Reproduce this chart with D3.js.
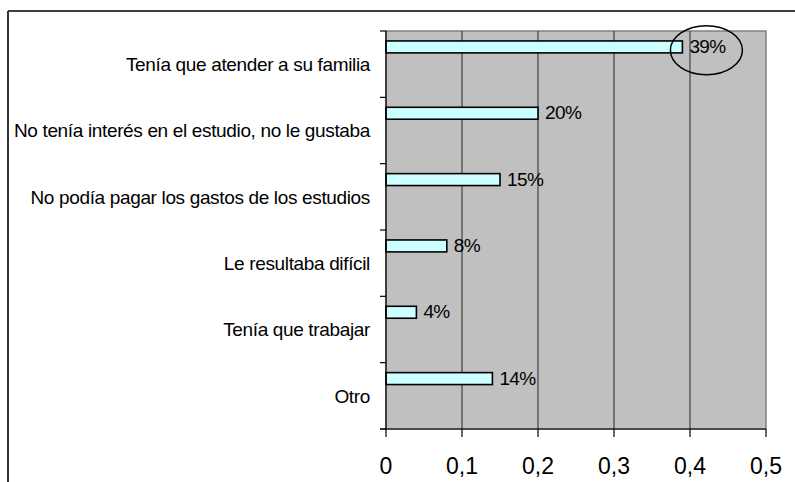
<!DOCTYPE html>
<html>
<head>
<meta charset="utf-8">
<script src="https://cdn.jsdelivr.net/npm/d3@7"></script>
<style>
  body { margin: 0; background: #fff; }
  text { font-family: "Liberation Sans", Arial, sans-serif; fill: #000; }
</style>
</head>
<body>
<script>
var width = 795;
var height = 482;

var categories = [
    "Tenía que atender a su familia",
    "No tenía interés en el estudio, no le gustaba",
    "No podía pagar los gastos de los estudios",
    "Le resultaba difícil",
    "Tenía que trabajar",
    "Otro"
];
var values = [0.39, 0.20, 0.15, 0.08, 0.04, 0.14];
var valueLabels = ["39%", "20%", "15%", "8%", "4%", "14%"];
var xTicks = [0, 0.1, 0.2, 0.3, 0.4, 0.5];
var xTickLabels = ["0", "0,1", "0,2", "0,3", "0,4", "0,5"];

var svg = d3.select("body").append("svg").attr("width", width).attr("height", height);

// outer chart frame (only top and left visible)
svg.append("line").attr("x1", 8).attr("y1", 11).attr("x2", width).attr("y2", 11)
    .attr("stroke", "#000").attr("stroke-width", 1.5);
svg.append("line").attr("x1", 8).attr("y1", 11).attr("x2", 8).attr("y2", height)
    .attr("stroke", "#333").attr("stroke-width", 2);

var plot = { left: 386, right: 766, top: 31, bottom: 429 };

var x = d3.scaleLinear().domain([0, 0.5]).range([plot.left, plot.right]);
var y = d3.scaleBand().domain(categories).range([plot.top, plot.bottom]);

// plot background
svg.append("rect")
    .attr("x", plot.left).attr("y", plot.top)
    .attr("width", plot.right - plot.left).attr("height", plot.bottom - plot.top)
    .attr("fill", "#c0c0c0").attr("stroke", "#808080").attr("stroke-width", 1.5);

// vertical gridlines
svg.append("g").selectAll("line")
    .data(xTicks.slice(1, -1))
    .enter().append("line")
    .attr("x1", function (d) { return x(d); })
    .attr("x2", function (d) { return x(d); })
    .attr("y1", plot.top).attr("y2", plot.bottom)
    .attr("stroke", "#404040").attr("stroke-width", 1.2);

// bars
var bw = y.bandwidth();
svg.append("g").selectAll("rect")
    .data(values)
    .enter().append("rect")
    .attr("x", x(0))
    .attr("y", function (d, i) { return y(categories[i]) + bw * 0.15; })
    .attr("width", function (d) { return x(d) - x(0); })
    .attr("height", bw * 0.18)
    .attr("fill", "#ccffff").attr("stroke", "#000").attr("stroke-width", 1.6);

// value labels
svg.append("g").selectAll("text")
    .data(values)
    .enter().append("text")
    .attr("x", function (d) { return x(d) + 7; })
    .attr("y", function (d, i) { return y(categories[i]) + bw * 0.15 + bw * 0.18; })
    .attr("font-size", "19px")
    .attr("letter-spacing", "-0.6px")
    .text(function (d, i) { return valueLabels[i]; });

// y axis
svg.append("line").attr("x1", plot.left).attr("x2", plot.left)
    .attr("y1", plot.top).attr("y2", plot.bottom).attr("stroke", "#000").attr("stroke-width", 1.2);
var yTickPos = categories.map(function (c) { return y(c); }).concat([plot.bottom]);
svg.append("g").selectAll("line")
    .data(yTickPos)
    .enter().append("line")
    .attr("x1", plot.left - 6).attr("x2", plot.left)
    .attr("y1", function (d) { return d; }).attr("y2", function (d) { return d; })
    .attr("stroke", "#000").attr("stroke-width", 1.2);
svg.append("g").selectAll("text")
    .data(categories)
    .enter().append("text")
    .attr("x", 370)
    .attr("y", function (d) { return y(d) + bw / 2; })
    .attr("dy", "0.36em")
    .attr("text-anchor", "end")
    .attr("font-size", "19px")
    .attr("letter-spacing", "-0.35px")
    .text(function (d) { return d; });

// x axis
svg.append("line").attr("x1", plot.left - 6).attr("x2", plot.right)
    .attr("y1", plot.bottom).attr("y2", plot.bottom).attr("stroke", "#000").attr("stroke-width", 1.2);
svg.append("g").selectAll("line")
    .data(xTicks)
    .enter().append("line")
    .attr("x1", function (d) { return x(d); }).attr("x2", function (d) { return x(d); })
    .attr("y1", plot.bottom).attr("y2", plot.bottom + 8)
    .attr("stroke", "#000").attr("stroke-width", 1.2);
svg.append("g").selectAll("text")
    .data(xTicks)
    .enter().append("text")
    .attr("x", function (d) { return x(d); })
    .attr("y", 474)
    .attr("text-anchor", "middle")
    .attr("font-size", "23px")
    .text(function (d, i) { return xTickLabels[i]; });

// highlight ellipse around the largest value
svg.append("ellipse")
    .attr("cx", x(values[0]) + 24).attr("cy", y(categories[0]) + bw * 0.29)
    .attr("rx", 36).attr("ry", 24.5)
    .attr("fill", "none").attr("stroke", "#000").attr("stroke-width", 1.5);
</script>
</body>
</html>
